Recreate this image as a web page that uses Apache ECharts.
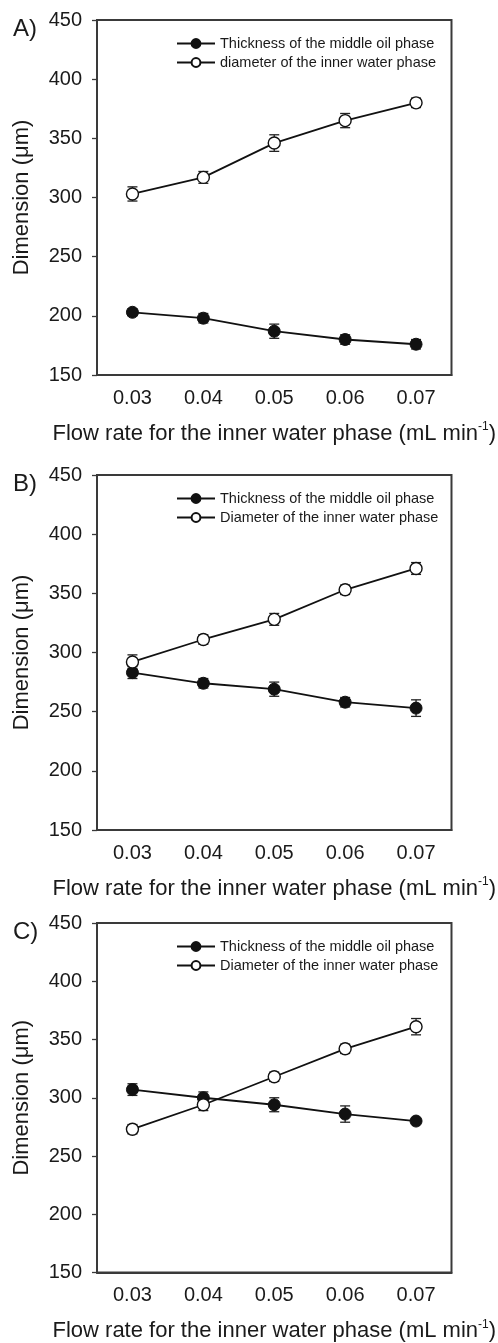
<!DOCTYPE html>
<html>
<head>
<meta charset="utf-8">
<script src="https://cdn.jsdelivr.net/npm/echarts@6/dist/echarts.min.js"></script>
<style>
  html, body { margin: 0; padding: 0; background: #fff; }
  #chart { width: 498px; height: 1343px; }
</style>
</head>
<body>
<div id="chart"></div>
<script>
// x categories (flow rate of inner water phase, mL/min)
const flowRates = ['0.03', '0.04', '0.05', '0.06', '0.07']

// panel A
const thickA = [203, 198, 187, 180, 176]
const thickErrA = [3, 4, 6, 4, 4]
const diamA = [303, 317, 346, 365, 380]
const diamErrA = [6, 5, 7, 6, 4]

// panel B
const thickB = [283, 274, 269, 258, 253]
const thickErrB = [5, 4, 6, 4, 7]
const diamB = [292, 311, 328, 353, 371]
const diamErrB = [6, 4, 5, 4, 5]

// panel C
const thickC = [307, 300, 294, 286, 280]
const thickErrC = [5, 5, 6, 7, 2]
const diamC = [273, 294, 318, 342, 361]
const diamErrC = [4, 5, 4, 4, 7]

const panels = [
  { label: 'A)', thick: thickA, thickErr: thickErrA, diam: diamA, diamErr: diamErrA,
    thickName: 'Thickness of the middle oil phase', diamName: 'diameter of the inner water phase' },
  { label: 'B)', thick: thickB, thickErr: thickErrB, diam: diamB, diamErr: diamErrB,
    thickName: 'Thickness of the middle oil phase ', diamName: 'Diameter of the inner water phase' },
  { label: 'C)', thick: thickC, thickErr: thickErrC, diam: diamC, diamErr: diamErrC,
    thickName: 'Thickness of the middle oil phase  ', diamName: 'Diameter of the inner water phase ' },
]

const gridTops = [20, 475, 923]
const FONT = '"Liberation Sans", Arial, sans-serif'
const INK = '#1a1a1a'
const FRAME = '#3a3a3a'

const chart = echarts.init(document.getElementById('chart'), null, { renderer: 'canvas' })

const renderErr = (params, api) => {
  const x = api.value(0)
  const lo = api.coord([x, api.value(1)])
  const hi = api.coord([x, api.value(2)])
  const cap = 5
  const style = { stroke: '#222', lineWidth: 1.3 }
  return {
    type: 'group',
    children: [
      { type: 'line', shape: { x1: lo[0], y1: lo[1], x2: hi[0], y2: hi[1] }, style },
      { type: 'line', shape: { x1: lo[0] - cap, y1: lo[1], x2: lo[0] + cap, y2: lo[1] }, style },
      { type: 'line', shape: { x1: hi[0] - cap, y1: hi[1], x2: hi[0] + cap, y2: hi[1] }, style },
    ],
  }
}

const errData = (vals, errs) => vals.map((v, i) => [i, v - errs[i], v + errs[i]])

const grid = []
const xAxis = []
const yAxis = []
const series = []
const legend = []
const title = []

panels.forEach((p, k) => {
  grid.push({
    left: 97, top: gridTops[k], width: 355, height: 355,
    show: true, borderColor: FRAME, borderWidth: 2, backgroundColor: '#fff',
  })
  xAxis.push({
    gridIndex: k,
    type: 'category',
    data: flowRates,
    boundaryGap: true,
    name: 'Flow rate for the inner water phase (mL min{sup|-1})',
    nameLocation: 'middle',
    nameGap: 46,
    nameTextStyle: {
      fontFamily: FONT, fontSize: 22, color: INK,
      rich: { sup: { fontFamily: FONT, fontSize: 12, color: INK, verticalAlign: 'top', padding: [0, 0, 13, 0] } },
    },
    axisLine: { lineStyle: { color: FRAME, width: 2 } },
    axisTick: { alignWithLabel: true, length: 5, lineStyle: { color: FRAME, width: 1.3 } },
    axisLabel: { fontFamily: FONT, fontSize: 20, color: INK, margin: 13 },
    splitLine: { show: false },
  })
  yAxis.push({
    gridIndex: k,
    type: 'value',
    min: 150, max: 450, interval: 50,
    name: 'Dimension (μm)',
    nameLocation: 'middle',
    nameGap: 64,
    nameTextStyle: { fontFamily: FONT, fontSize: 22, color: INK },
    axisLine: { show: true, lineStyle: { color: FRAME, width: 2 } },
    axisTick: { show: true, length: 5, lineStyle: { color: FRAME, width: 1.3 } },
    axisLabel: { fontFamily: FONT, fontSize: 20, color: INK, margin: 15 },
    splitLine: { show: false },
  })

  // error bars sit under the markers
  series.push({
    type: 'custom', xAxisIndex: k, yAxisIndex: k, z: 1,
    renderItem: renderErr, encode: { x: 0, y: [1, 2] },
    data: errData(p.thick, p.thickErr), silent: true,
  })
  series.push({
    type: 'custom', xAxisIndex: k, yAxisIndex: k, z: 1,
    renderItem: renderErr, encode: { x: 0, y: [1, 2] },
    data: errData(p.diam, p.diamErr), silent: true,
  })
  series.push({
    name: p.thickName, type: 'line', xAxisIndex: k, yAxisIndex: k, z: 3,
    data: p.thick, symbol: 'circle', symbolSize: 12,
    lineStyle: { color: '#111', width: 1.8 },
    itemStyle: { color: '#111', borderColor: '#111', borderWidth: 1 },
    emphasis: { disabled: true },
  })
  series.push({
    name: p.diamName, type: 'line', xAxisIndex: k, yAxisIndex: k, z: 3,
    data: p.diam, symbol: 'circle', symbolSize: 12,
    lineStyle: { color: '#111', width: 1.8 },
    itemStyle: { color: '#fff', borderColor: '#111', borderWidth: 1.4 },
    emphasis: { disabled: true },
  })

  legend.push({
    data: [p.thickName, p.diamName],
    orient: 'vertical',
    left: 171,
    top: gridTops[k] + 11,
    itemWidth: 38,
    itemHeight: 11,
    itemGap: 4,
    selectedMode: false,
    textStyle: { fontFamily: FONT, fontSize: 14.5, color: INK },
  })

  title.push({
    text: p.label,
    left: 8,
    top: gridTops[k] - 8,
    textStyle: { fontFamily: FONT, fontSize: 24, fontWeight: 'normal', color: INK },
  })
})

chart.setOption({
  animation: false,
  backgroundColor: '#fff',
  title,
  legend,
  grid,
  xAxis,
  yAxis,
  series,
})
</script>
</body>
</html>
